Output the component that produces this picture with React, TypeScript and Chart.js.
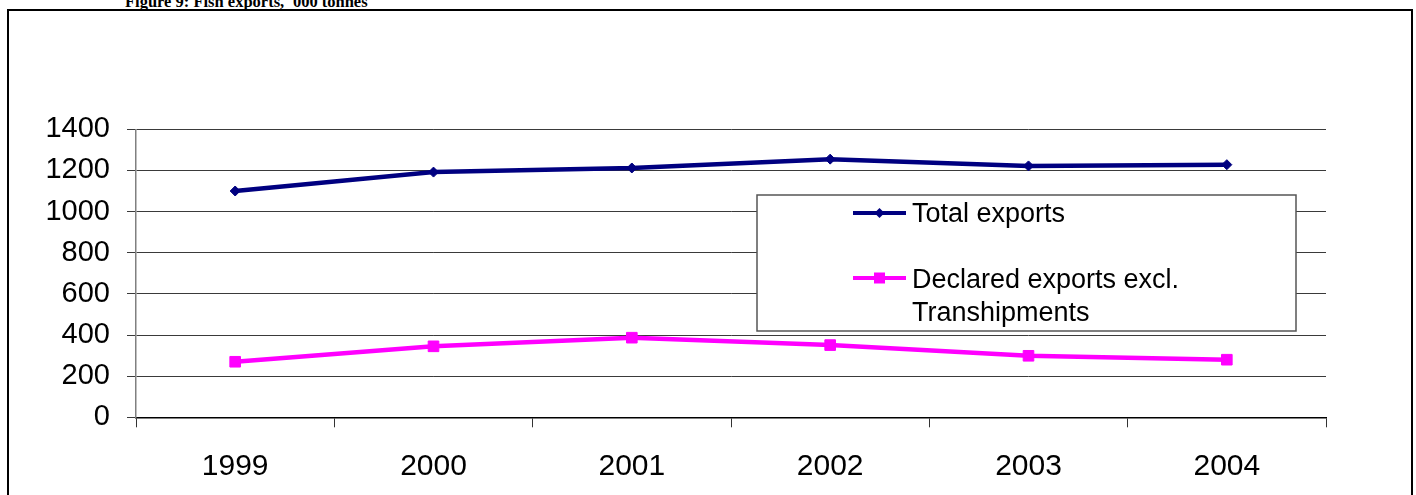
import React, { useEffect, useRef } from "react";
import { Chart, registerables } from "chart.js";

Chart.register(...registerables);

// ---- data ----
const categories = ["1999", "2000", "2001", "2002", "2003", "2004"];
const totalExports = [1100, 1192, 1212, 1255, 1222, 1228];
const declaredExports = [270, 345, 387, 351, 299, 280];
const seriesNames = ["Total exports", "Declared exports excl. Transhipments"];
const legendLines = [["Total exports"], ["Declared exports excl.", "Transhipments"]];
const yMin = 0;
const yMax = 1400;
const yStep = 200;
const titleText = "Figure 9: Fish exports, '000 tonnes";

const FONT = "'Liberation Sans', Arial, sans-serif";

const legendPlugin = {
  id: "boxLegend",
  afterDraw(chart: any) {
    const ctx = chart.ctx as CanvasRenderingContext2D;
    const box = { x: 757, y: 195, w: 539, h: 136 };
    ctx.save();
    ctx.fillStyle = "#ffffff";
    ctx.fillRect(box.x, box.y, box.w, box.h);
    ctx.strokeStyle = "#555555";
    ctx.lineWidth = 1.5;
    ctx.strokeRect(box.x, box.y, box.w, box.h);
    const lineYs = [213, 278];
    const baselines = [[222], [288, 321]];
    chart.data.datasets.forEach((ds: any, i: number) => {
      const y = lineYs[i];
      ctx.strokeStyle = ds.borderColor;
      ctx.lineWidth = 4;
      ctx.beginPath();
      ctx.moveTo(853, y);
      ctx.lineTo(906, y);
      ctx.stroke();
      ctx.fillStyle = ds.borderColor;
      const cx = 879.5;
      ctx.beginPath();
      if (ds.pointStyle === "rectRot") {
        ctx.moveTo(cx - 5, y);
        ctx.lineTo(cx, y - 5);
        ctx.lineTo(cx + 5, y);
        ctx.lineTo(cx, y + 5);
        ctx.closePath();
      } else {
        ctx.rect(cx - 5.5, y - 5.5, 11, 11);
      }
      ctx.fill();
      ctx.fillStyle = "#000000";
      ctx.font = `27px ${FONT}`;
      ctx.textBaseline = "alphabetic";
      ctx.textAlign = "left";
      legendLines[i].forEach((t, j) => {
        ctx.fillText(t, 912, baselines[i][j]);
      });
    });
    ctx.restore();
  },
};

export default function App() {
  const canvasRef = useRef<HTMLCanvasElement | null>(null);

  useEffect(() => {
    if (!canvasRef.current) return;
    const chart = new Chart(canvasRef.current, {
      type: "line",
      data: {
        labels: categories,
        datasets: [
          {
            label: seriesNames[0],
            data: totalExports,
            borderColor: "#000080",
            backgroundColor: "#000080",
            borderWidth: 4.5,
            pointStyle: "rectRot",
            pointRadius: 5,
            pointBorderWidth: 1,
            tension: 0,
          },
          {
            label: seriesNames[1],
            data: declaredExports,
            borderColor: "#FF00FF",
            backgroundColor: "#FF00FF",
            borderWidth: 4.5,
            pointStyle: "rect",
            pointRadius: 7.5,
            pointBorderWidth: 1,
            tension: 0,
          },
        ],
      },
      options: {
        responsive: false,
        animation: false,
        devicePixelRatio: 1,
        layout: { padding: { left: 0, right: 90, top: 129.3, bottom: 0 } },
        plugins: {
          legend: { display: false },
          tooltip: { enabled: false },
          title: { display: false },
        },
        scales: {
          x: {
            type: "category",
            offset: true,
            grid: {
              offset: true,
              drawOnChartArea: false,
              drawTicks: true,
              tickLength: 10,
              color: "#333333",
              lineWidth: 1,
            },
            border: { display: true, color: "#000000", width: 1.5 },
            ticks: {
              color: "#000000",
              font: { family: FONT, size: 30 },
              padding: 21,
              maxRotation: 0,
            },
            afterFit: (s: any) => {
              s.height = 77.7;
            },
          },
          y: {
            min: yMin,
            max: yMax,
            ticks: {
              stepSize: yStep,
              color: "#000000",
              font: { family: FONT, size: 29 },
              padding: 17,
              callback: (v: any) => String(v),
            },
            grid: {
              color: "#3a3a3a",
              lineWidth: 1,
              drawTicks: true,
              tickLength: 9,
            },
            border: { display: true, color: "#808080", width: 1.5 },
            afterFit: (s: any) => {
              s.width = 136;
            },
          },
        },
      },
      plugins: [legendPlugin],
    });
    return () => chart.destroy();
  }, []);

  return (
    <div
      style={{
        position: "fixed",
        left: 0,
        top: 0,
        width: 1416,
        height: 495,
        overflow: "hidden",
        background: "#ffffff",
      }}
    >
      <div
        style={{
          position: "absolute",
          left: 125,
          top: -6.3,
          font: "bold 16.5px 'Liberation Serif', 'Times New Roman', serif",
          lineHeight: "16px",
          whiteSpace: "nowrap",
          color: "#000",
        }}
      >
        {titleText}
      </div>
      <div
        style={{
          position: "absolute",
          left: 7,
          top: 9,
          width: 1406,
          height: 520,
          boxSizing: "border-box",
          border: "2.5px solid #000",
        }}
      />
      <canvas
        ref={canvasRef}
        width={1416}
        height={495}
        style={{ position: "absolute", left: 0, top: 0, width: 1416, height: 495 }}
      />
    </div>
  );
}
